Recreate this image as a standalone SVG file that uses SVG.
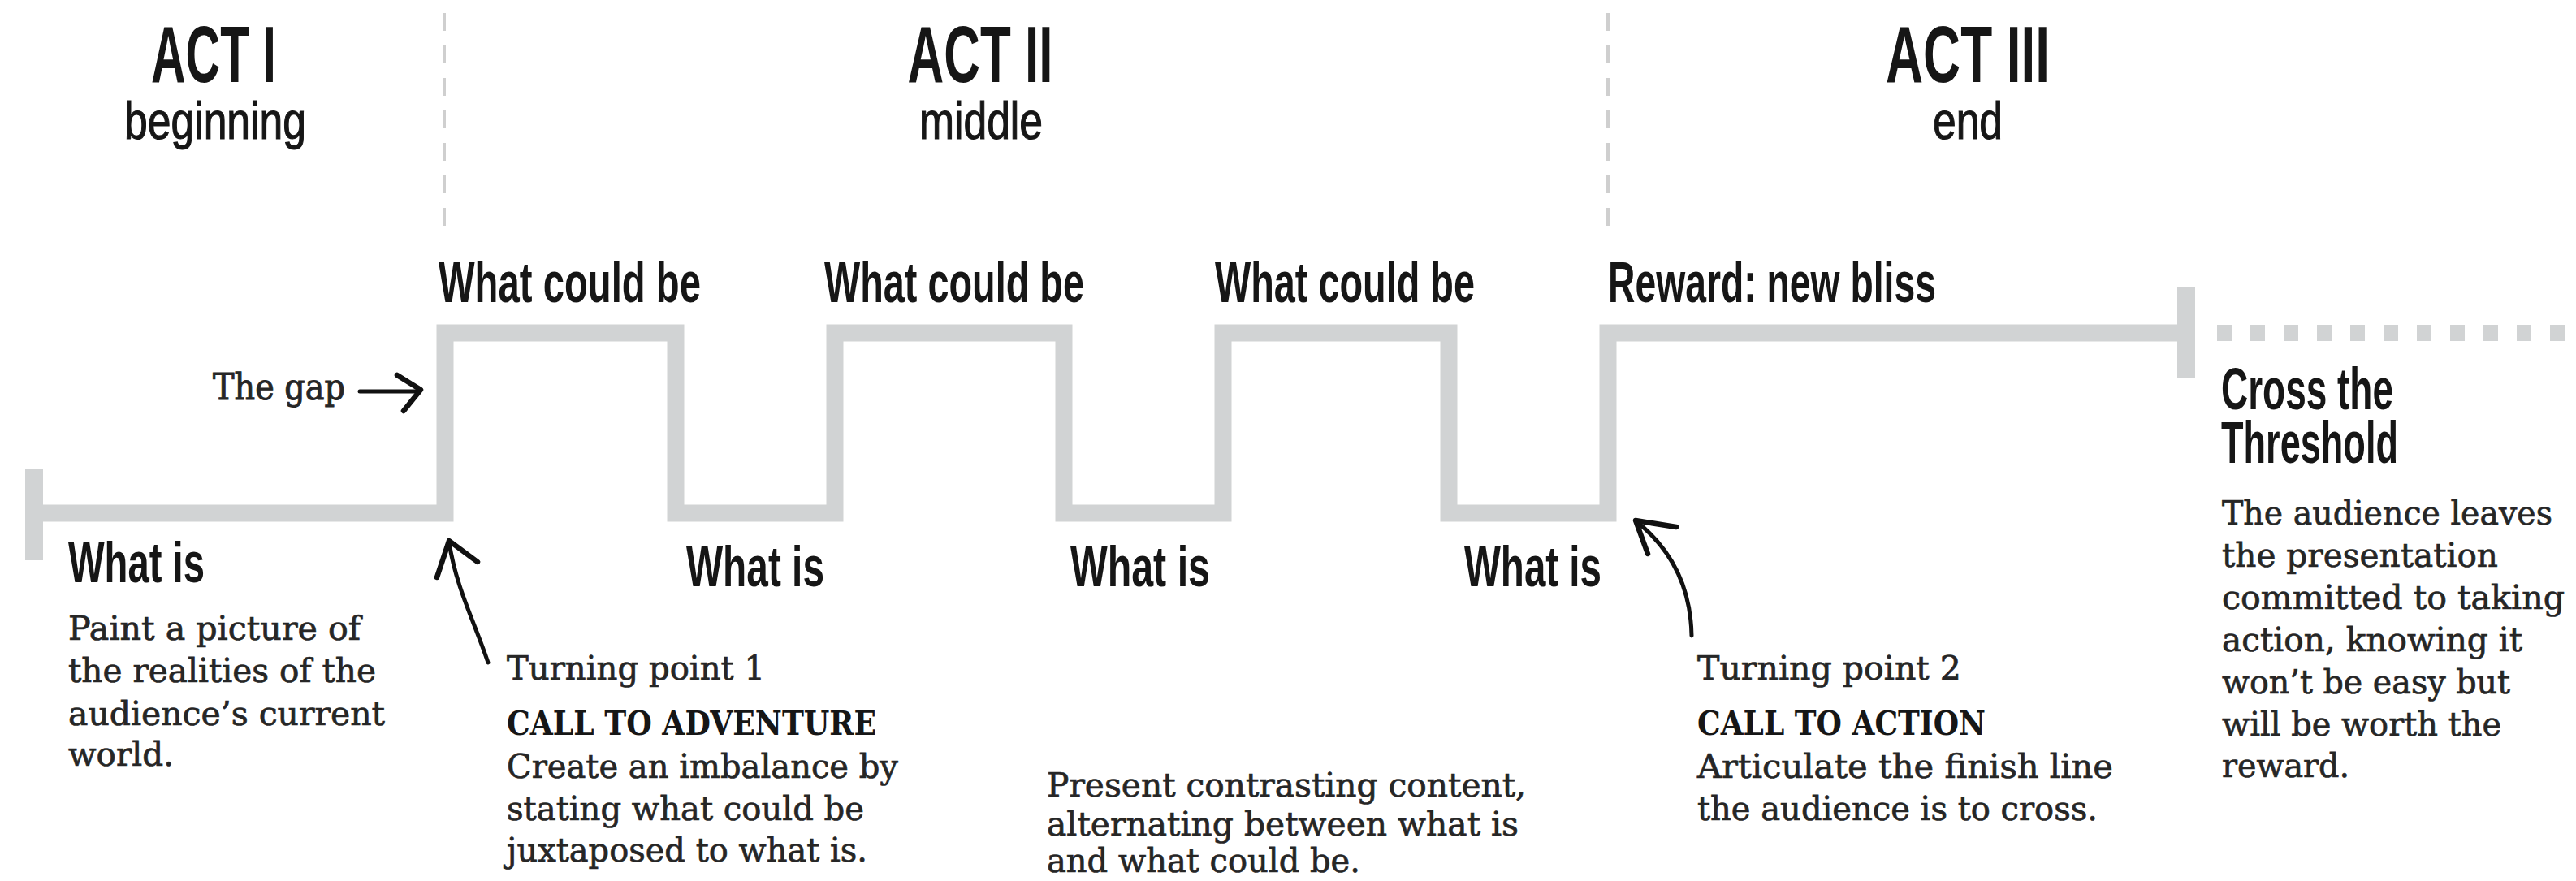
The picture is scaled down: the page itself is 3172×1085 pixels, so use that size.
<svg xmlns="http://www.w3.org/2000/svg" width="3172" height="1085" viewBox="0 0 3172 1085">
<style>
.h{font-family:"Liberation Sans",Arial,sans-serif;font-weight:bold;fill:#161616}
.hn{font-family:"Liberation Sans",Arial,sans-serif;font-weight:normal;fill:#161616;stroke:#161616;stroke-width:1.2}
.b{font-family:"DejaVu Serif","Liberation Serif",serif;fill:#262626;font-size:41px;stroke:#262626;stroke-width:0.7}
.bb{font-family:"DejaVu Serif","Liberation Serif",serif;fill:#161616;font-size:41px;font-weight:bold}
.step{fill:none;stroke:#d1d3d4;stroke-width:21;stroke-linejoin:miter;stroke-linecap:butt}
.cap{stroke:#d1d3d4;stroke-width:22}
.div{stroke:#cfcfcf;stroke-width:4;stroke-dasharray:22 18}
.arr{fill:none;stroke:#111;stroke-width:5;stroke-linecap:round;stroke-linejoin:round}
.head{fill:none;stroke:#111;stroke-width:6.5;stroke-linecap:round;stroke-linejoin:round}
</style>
<rect width="3172" height="1085" fill="#fff"/>

<g id="dividers">
<line class="div" x1="547" y1="16" x2="547" y2="284"/>
<line class="div" x1="1980" y1="16" x2="1980" y2="284"/>
</g>

<g id="act1">
<text class="h" x="263" y="101" font-size="98" text-anchor="middle" textLength="154" lengthAdjust="spacingAndGlyphs">ACT I</text>
<text class="hn" x="265" y="171" font-size="64" text-anchor="middle" textLength="224" lengthAdjust="spacingAndGlyphs">beginning</text>
</g>
<g id="act2">
<text class="h" x="1207" y="101" font-size="98" text-anchor="middle" textLength="179" lengthAdjust="spacingAndGlyphs">ACT II</text>
<text class="hn" x="1208" y="171" font-size="64" text-anchor="middle" textLength="152" lengthAdjust="spacingAndGlyphs">middle</text>
</g>
<g id="act3">
<text class="h" x="2423" y="101" font-size="98" text-anchor="middle" textLength="202" lengthAdjust="spacingAndGlyphs">ACT III</text>
<text class="hn" x="2423" y="171" font-size="64" text-anchor="middle" textLength="86" lengthAdjust="spacingAndGlyphs">end</text>
</g>

<g id="connectors">
<path class="step" d="M42 632 H548 V410 H832 V632 H1028 V410 H1310 V632 H1506 V410 H1784 V632 H1980 V410 H2692"/>
<line class="cap" x1="42" y1="578" x2="42" y2="690"/>
<line class="cap" x1="2692" y1="353" x2="2692" y2="465"/>
<line x1="2730" y1="410" x2="3172" y2="410" stroke="#d1d3d4" stroke-width="20" stroke-dasharray="18 23"/>
<path class="arr" d="M443 482 H515"/>
<path class="head" d="M489 462 L518 480 L497 506"/>
<path class="arr" d="M601 816 C584 765 562 725 553 668"/>
<path class="head" d="M538 711 L553 666 L588 692"/>
<path class="arr" d="M2083 783 C2082 728 2062 680 2016 643"/>
<path class="head" d="M2064 649 L2014 641 L2029 682"/>
</g>

<g id="top-labels">
<text class="h" x="540" y="372" font-size="70" textLength="323" lengthAdjust="spacingAndGlyphs">What could be</text>
<text class="h" x="1015" y="372" font-size="70" textLength="320" lengthAdjust="spacingAndGlyphs">What could be</text>
<text class="h" x="1496" y="372" font-size="70" textLength="320" lengthAdjust="spacingAndGlyphs">What could be</text>
<text class="h" x="1980" y="372" font-size="70" textLength="404" lengthAdjust="spacingAndGlyphs">Reward: new bliss</text>
</g>

<g id="bottom-labels">
<text class="h" x="84" y="717" font-size="70" textLength="168" lengthAdjust="spacingAndGlyphs">What is</text>
<text class="h" x="845" y="722" font-size="70" textLength="170" lengthAdjust="spacingAndGlyphs">What is</text>
<text class="h" x="1318" y="722" font-size="70" textLength="172" lengthAdjust="spacingAndGlyphs">What is</text>
<text class="h" x="1803" y="722" font-size="70" textLength="169" lengthAdjust="spacingAndGlyphs">What is</text>
</g>

<g id="the-gap">
<text class="b" x="262" y="492" textLength="163" lengthAdjust="spacingAndGlyphs" style="font-size:44px;stroke-width:1">The gap</text>
</g>

<g id="what-is-desc">
<text class="b" x="84" y="788" textLength="360" lengthAdjust="spacingAndGlyphs">Paint a picture of</text>
<text class="b" x="84" y="840" textLength="379" lengthAdjust="spacingAndGlyphs">the realities of the</text>
<text class="b" x="84" y="893" textLength="390" lengthAdjust="spacingAndGlyphs">audience’s current</text>
<text class="b" x="84" y="943" textLength="130" lengthAdjust="spacingAndGlyphs">world.</text>
</g>

<g id="turning-point-1">
<text class="b" x="624" y="837" textLength="318" lengthAdjust="spacingAndGlyphs">Turning point 1</text>
<text class="bb" x="624" y="905" textLength="455" lengthAdjust="spacingAndGlyphs">CALL TO ADVENTURE</text>
<text class="b" x="624" y="958" textLength="482" lengthAdjust="spacingAndGlyphs">Create an imbalance by</text>
<text class="b" x="624" y="1010" textLength="440" lengthAdjust="spacingAndGlyphs">stating what could be</text>
<text class="b" x="624" y="1061" textLength="444" lengthAdjust="spacingAndGlyphs">juxtaposed to what is.</text>
</g>

<g id="middle-desc">
<text class="b" x="1289" y="981" textLength="590" lengthAdjust="spacingAndGlyphs">Present contrasting content,</text>
<text class="b" x="1289" y="1029" textLength="581" lengthAdjust="spacingAndGlyphs">alternating between what is</text>
<text class="b" x="1289" y="1074" textLength="386" lengthAdjust="spacingAndGlyphs">and what could be.</text>
</g>

<g id="turning-point-2">
<text class="b" x="2090" y="837" textLength="325" lengthAdjust="spacingAndGlyphs">Turning point 2</text>
<text class="bb" x="2090" y="905" textLength="355" lengthAdjust="spacingAndGlyphs">CALL TO ACTION</text>
<text class="b" x="2090" y="958" textLength="512" lengthAdjust="spacingAndGlyphs">Articulate the finish line</text>
<text class="b" x="2090" y="1010" textLength="493" lengthAdjust="spacingAndGlyphs">the audience is to cross.</text>
</g>

<g id="cross-threshold">
<text class="h" x="2735" y="504" font-size="72" textLength="212" lengthAdjust="spacingAndGlyphs">Cross the</text>
<text class="h" x="2735" y="570" font-size="72" textLength="218" lengthAdjust="spacingAndGlyphs">Threshold</text>
<text class="b" x="2736" y="646" textLength="407" lengthAdjust="spacingAndGlyphs">The audience leaves</text>
<text class="b" x="2736" y="698" textLength="340" lengthAdjust="spacingAndGlyphs">the presentation</text>
<text class="b" x="2736" y="750" textLength="422" lengthAdjust="spacingAndGlyphs">committed to taking</text>
<text class="b" x="2736" y="802" textLength="370" lengthAdjust="spacingAndGlyphs">action, knowing it</text>
<text class="b" x="2736" y="854" textLength="355" lengthAdjust="spacingAndGlyphs">won’t be easy but</text>
<text class="b" x="2736" y="906" textLength="344" lengthAdjust="spacingAndGlyphs">will be worth the</text>
<text class="b" x="2736" y="957" textLength="157" lengthAdjust="spacingAndGlyphs">reward.</text>
</g>
</svg>
